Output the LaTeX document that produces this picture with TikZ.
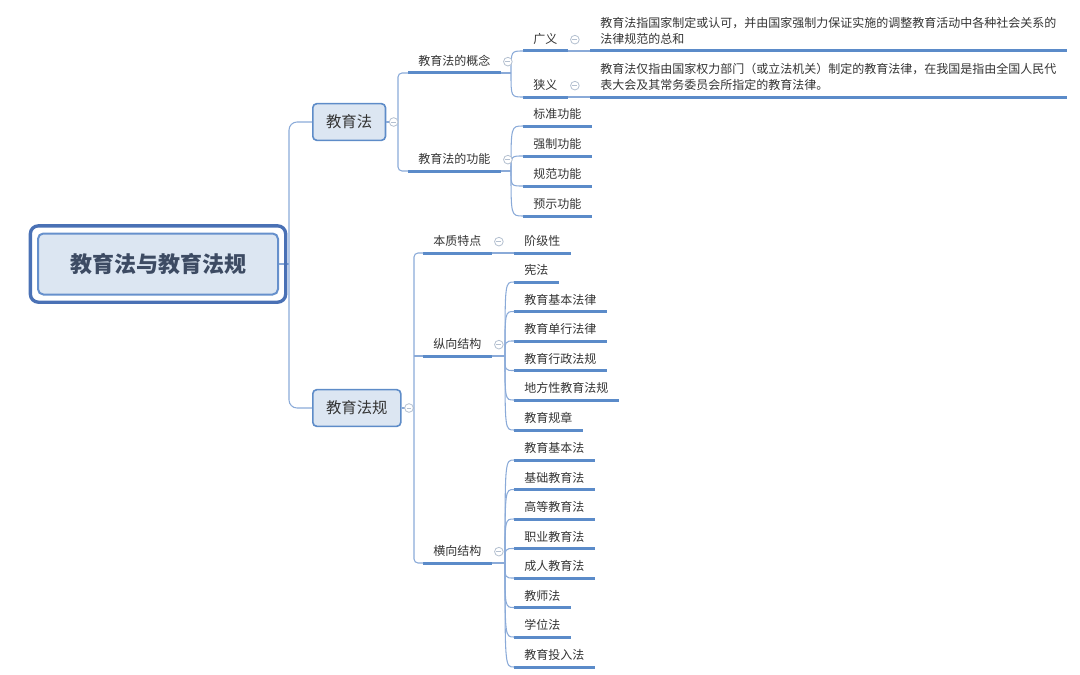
\documentclass[tikz,border=0pt]{standalone}
\usepackage{fontspec}
\setmainfont{Noto Sans CJK SC}
\usepackage{xcolor}
\usepackage{tikz}
\usetikzlibrary{positioning}
\definecolor{lineblue}{HTML}{5B8BC9}
\definecolor{linkblue}{HTML}{8AAAD8}
\definecolor{boxfill}{HTML}{DCE6F2}
\definecolor{boxline}{HTML}{5E8CC8}
\definecolor{rootline}{HTML}{4A71B5}
\definecolor{rootin}{HTML}{6690CC}
\definecolor{rootink}{HTML}{3D4B63}
\definecolor{foldgray}{HTML}{B4C0D0}
\definecolor{textgray}{HTML}{333333}
\tikzstyle{rootbox} = [rectangle, rounded corners=4pt, minimum width=180pt, minimum height=45.75pt, draw=rootin, fill=boxfill, line width=1.5pt, text=rootink, font=\fontsize{16.5}{18}\selectfont\bfseries]
\tikzstyle{rootframe} = [draw=rootline, line width=2.5pt, rounded corners=6pt]
\tikzstyle{topic} = [rectangle, rounded corners=3pt, draw=boxline, fill=boxfill, line width=1.2pt, minimum height=27.5pt, inner xsep=10pt, text=textgray, font=\fontsize{11.5}{13}\selectfont, anchor=west]
\tikzstyle{uline} = [draw=lineblue, line width=2.25pt]
\tikzstyle{leaf} = [inner xsep=7.5pt, inner ysep=3.2pt, text height=7pt, text depth=2pt, text=textgray, font=\fontsize{9}{12}\selectfont, anchor=south west, append after command={(\tikzlastnode.south west) edge[uline] (\tikzlastnode.south east)}]
\tikzstyle{note} = [inner xsep=7.5pt, inner ysep=3.2pt, text depth=2pt, align=left, text=textgray, font=\fontsize{9}{12}\selectfont, anchor=south west, append after command={(\tikzlastnode.south west) edge[uline] (\tikzlastnode.south east)}]
\tikzstyle{link} = [draw=linkblue, line width=0.8pt]
\tikzstyle{branchcurve} = [to path={.. controls (\tikztostart |- \tikztotarget) .. (\tikztotarget)}]
\tikzstyle{foldmark} = [circle, draw=foldgray, fill=white, line width=0.6pt, minimum size=6.5pt, inner sep=0pt, path picture={\draw[foldgray, line width=0.6pt] ([xshift=-1.8pt]path picture bounding box.center) -- ([xshift=1.8pt]path picture bounding box.center);}]

\begin{document}
\begin{tikzpicture}[x=0.75pt, y=-0.75pt]
\useasboundingbox (0,0) rectangle (1080,674);
% Nodes
\node (root) [rootbox] at (158,264) {教育法与教育法规};
\node (jyf) [topic] at (312,122) {教育法};
\node (fg) [topic] at (312,408) {教育法规};

\node (concept) [leaf] at (408,73) {教育法的概念};
\node (function) [leaf] at (408,171) {教育法的功能};
\node (broad) [leaf] at (523,51) {广义};
\node (narrow) [leaf] at (523,97) {狭义};
\node (broadtxt) [note] at (590,51) {教育法指国家制定或认可，并由国家强制力保证实施的调整教育活动中各种社会关系的\\法律规范的总和};
\node (narrowtxt) [note] at (590,97) {教育法仅指由国家权力部门（或立法机关）制定的教育法律，在我国是指由全国人民代\\表大会及其常务委员会所指定的教育法律。};
\node (f1) [leaf] at (523,126) {标准功能};
\node (f2) [leaf] at (523,156) {强制功能};
\node (f3) [leaf] at (523,186) {规范功能};
\node (f4) [leaf] at (523,216) {预示功能};

\node (essence) [leaf] at (423,253) {本质特点};
\node (vert) [leaf] at (423,356) {纵向结构};
\node (horiz) [leaf] at (423,563) {横向结构};
\node (class) [leaf] at (514,253) {阶级性};
\node (v1) [leaf] at (514,282) {宪法};
\node (v2) [leaf] at (514,311.5) {教育基本法律};
\node (v3) [leaf] at (514,341) {教育单行法律};
\node (v4) [leaf] at (514,370.5) {教育行政法规};
\node (v5) [leaf] at (514,400) {地方性教育法规};
\node (v6) [leaf] at (514,430) {教育规章};
\node (h1) [leaf] at (514,460) {教育基本法};
\node (h2) [leaf] at (514,489.5) {基础教育法};
\node (h3) [leaf] at (514,519) {高等教育法};
\node (h4) [leaf] at (514,548.5) {职业教育法};
\node (h5) [leaf] at (514,578) {成人教育法};
\node (h6) [leaf] at (514,607.5) {教师法};
\node (h7) [leaf] at (514,637) {学位法};
\node (h8) [leaf] at (514,667) {教育投入法};

\coordinate (t0) at (289,264);
\coordinate (b1) at (398,122);
\coordinate (b2) at (414,408);
\coordinate (k1) at (511,73);
\coordinate (k2) at (511,171);
\coordinate (k3) at (505,356);
\coordinate (k4) at (505,563);

% Links
\draw [link, rounded corners=6pt] (jyf.west) -| (t0) |- (fg.west);
\draw [link] (root.east) -- (t0);
\draw [link, rounded corners=3pt] (concept.south west) -| (b1) |- (function.south west);
\draw [link] (jyf.east) -- (b1);
\draw [link, rounded corners=3pt] (essence.south west) -| (b2) |- (horiz.south west);
\draw [link] (fg.east) -- (b2);
\draw [link] (b2 |- vert.south west) -- (vert.south west);

\draw [link] (concept.south east) -- (k1);
\draw [link] (k1) to[branchcurve] (broad.south west);
\draw [link] (k1) to[branchcurve] (narrow.south west);
\draw [link] (broad.south east) -- (broadtxt.south west);
\draw [link] (narrow.south east) -- (narrowtxt.south west);
\draw [link] (function.south east) -- (k2);
\draw [link] (k2) to[branchcurve] (f1.south west);
\draw [link] (k2) to[branchcurve] (f2.south west);
\draw [link] (k2) to[branchcurve] (f3.south west);
\draw [link] (k2) to[branchcurve] (f4.south west);

\draw [link] (essence.south east) -- (class.south west);
\draw [link] (vert.south east) -- (k3);
\draw [link] (k3) to[branchcurve] (v1.south west);
\draw [link] (k3) to[branchcurve] (v2.south west);
\draw [link] (k3) to[branchcurve] (v3.south west);
\draw [link] (k3) to[branchcurve] (v4.south west);
\draw [link] (k3) to[branchcurve] (v5.south west);
\draw [link] (k3) to[branchcurve] (v6.south west);
\draw [link] (horiz.south east) -- (k4);
\draw [link] (k4) to[branchcurve] (h1.south west);
\draw [link] (k4) to[branchcurve] (h2.south west);
\draw [link] (k4) to[branchcurve] (h3.south west);
\draw [link] (k4) to[branchcurve] (h4.south west);
\draw [link] (k4) to[branchcurve] (h5.south west);
\draw [link] (k4) to[branchcurve] (h6.south west);
\draw [link] (k4) to[branchcurve] (h7.south west);
\draw [link] (k4) to[branchcurve] (h8.south west);

\draw [rootframe] ([shift={(-5pt,-5pt)}]root.south west) rectangle ([shift={(5pt,5pt)}]root.north east);

% Fold marks
\node [foldmark, right=2pt of jyf] {};
\node [foldmark, right=2pt of fg] {};
\node [foldmark, above right=6pt and 3pt of concept.south east] {};
\node [foldmark, above right=6pt and 3pt of function.south east] {};
\node [foldmark, above right=6pt and 3pt of broad.south east] {};
\node [foldmark, above right=6pt and 3pt of narrow.south east] {};
\node [foldmark, above right=6pt and 3pt of essence.south east] {};
\node [foldmark, above right=6pt and 3pt of vert.south east] {};
\node [foldmark, above right=6pt and 3pt of horiz.south east] {};
\end{tikzpicture}
\end{document}
